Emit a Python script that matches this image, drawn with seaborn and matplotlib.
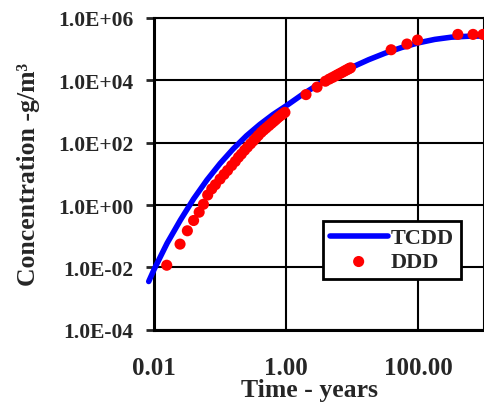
import numpy as np
import pandas as pd
import matplotlib
matplotlib.use("Agg")
from matplotlib import pyplot as plt
import seaborn as sns

# TCDD model curve (time in years, concentration g/m3)
tcdd_t = [0.00832, 0.01, 0.0158, 0.0251, 0.0398, 0.0631, 0.1, 0.158, 0.251, 0.398,
          0.631, 1.0, 1.78, 3.16, 5.62, 10, 17.8, 31.6, 56.2, 100,
          178, 316, 562, 1000]
tcdd_c = [0.00355, 0.0085, 0.060, 0.33, 1.58, 6.3, 21.4, 63, 166, 380,
          794, 1510, 3550, 7590, 1.41e4, 2.63e4, 4.57e4, 7.41e4, 1.12e5, 1.58e5,
          2.04e5, 2.4e5, 2.57e5, 2.63e5]

# DDD observed points
ddd_t = [0.0156, 0.0248, 0.032, 0.0398, 0.0483, 0.056, 0.065, 0.075, 0.085, 0.1,
         0.115, 0.13, 0.15, 0.17, 0.19, 0.21, 0.235, 0.26, 0.29, 0.32,
         0.35, 0.38, 0.42, 0.46, 0.5, 0.55, 0.6, 0.65, 0.7, 0.75,
         0.8, 0.85, 0.9, 0.96,
         2.0, 2.94, 3.94, 4.5, 5.0, 5.5, 6.0, 6.5, 7.0, 7.5, 8.0, 8.5, 9.0, 9.44,
         38.9, 67.6, 97.7, 398, 676, 955]
ddd_c = [0.0118, 0.056, 0.15, 0.32, 0.59, 1.06, 2.1, 3.3, 4.5, 6.8,
         9.6, 12.9, 18.5, 25, 34, 43, 57, 72, 92, 115,
         141, 171, 214, 255, 297, 352, 415, 480, 550, 630,
         705, 775, 850, 935,
         3470, 6030, 9330, 1.09e4, 1.22e4, 1.36e4, 1.5e4, 1.64e4, 1.78e4, 1.93e4, 2.08e4, 2.22e4, 2.38e4, 2.5e4,
         9.5e4, 1.45e5, 1.95e5, 2.95e5, 2.95e5, 2.95e5]

x_ticks = [0.01, 1, 100]
x_labels = ["0.01", "1.00", "100.00"]
y_ticks = [1e-4, 1e-2, 1e0, 1e2, 1e4, 1e6]
y_labels = ["1.0E-04", "1.0E-02", "1.0E+00", "1.0E+02", "1.0E+04", "1.0E+06"]

tcdd = pd.DataFrame({"t": tcdd_t, "c": tcdd_c})
ddd = pd.DataFrame({"t": ddd_t, "c": ddd_c})

sns.set_style("white")
plt.rcParams['font.family'] = ['Liberation Serif', 'DejaVu Serif']
plt.rcParams['font.weight'] = 'bold'

fig = plt.figure(figsize=(4.85, 4.1), dpi=100)
ax = fig.add_axes([0.3175, 0.193, 0.681, 0.761])

sns.lineplot(data=tcdd, x="t", y="c", ax=ax, color="#0000ff", linewidth=4,
             label="TCDD", clip_on=False, zorder=3)
sns.scatterplot(data=ddd, x="t", y="c", ax=ax, color="#ff0000", s=64,
                edgecolor="none", label="DDD", zorder=4)

ax.set_xscale("log")
ax.set_yscale("log")
ax.set_xlim(0.01, 1000)
ax.set_ylim(1e-4, 1e6)
ax.set_xticks(x_ticks)
ax.set_xticklabels(x_labels)
ax.set_yticks(y_ticks)
ax.set_yticklabels(y_labels)
ax.minorticks_off()
ax.tick_params(axis="y", direction="out", length=6, width=2, labelsize=15.5, pad=9, left=True)
ax.tick_params(axis="x", length=0, labelsize=18, pad=19)
ax.grid(True, color="black", linewidth=1.5)
for s in ax.spines.values():
    s.set_color("black")
    s.set_linewidth(1.5)
ax.spines["left"].set_linewidth(2.2)
ax.spines["bottom"].set_linewidth(2.2)

ax.set_xlabel("Time - years", fontsize=18.5, fontweight="bold", labelpad=0)
ax.set_ylabel("Concentration -g/m³", fontsize=18.5, fontweight="bold")
ax.xaxis.set_label_coords(0.47, -0.155)
ax.yaxis.set_label_coords(-0.345, 0.5)

leg = ax.legend(loc="lower left", bbox_to_anchor=(0.512, 0.163), borderaxespad=0,
                fancybox=False, framealpha=1, edgecolor="black", fontsize=16,
                handlelength=2.6, handletextpad=0.15, borderpad=0.3, labelspacing=0.15)
leg.get_frame().set_linewidth(2)

fig.savefig("out.png", dpi=100)
